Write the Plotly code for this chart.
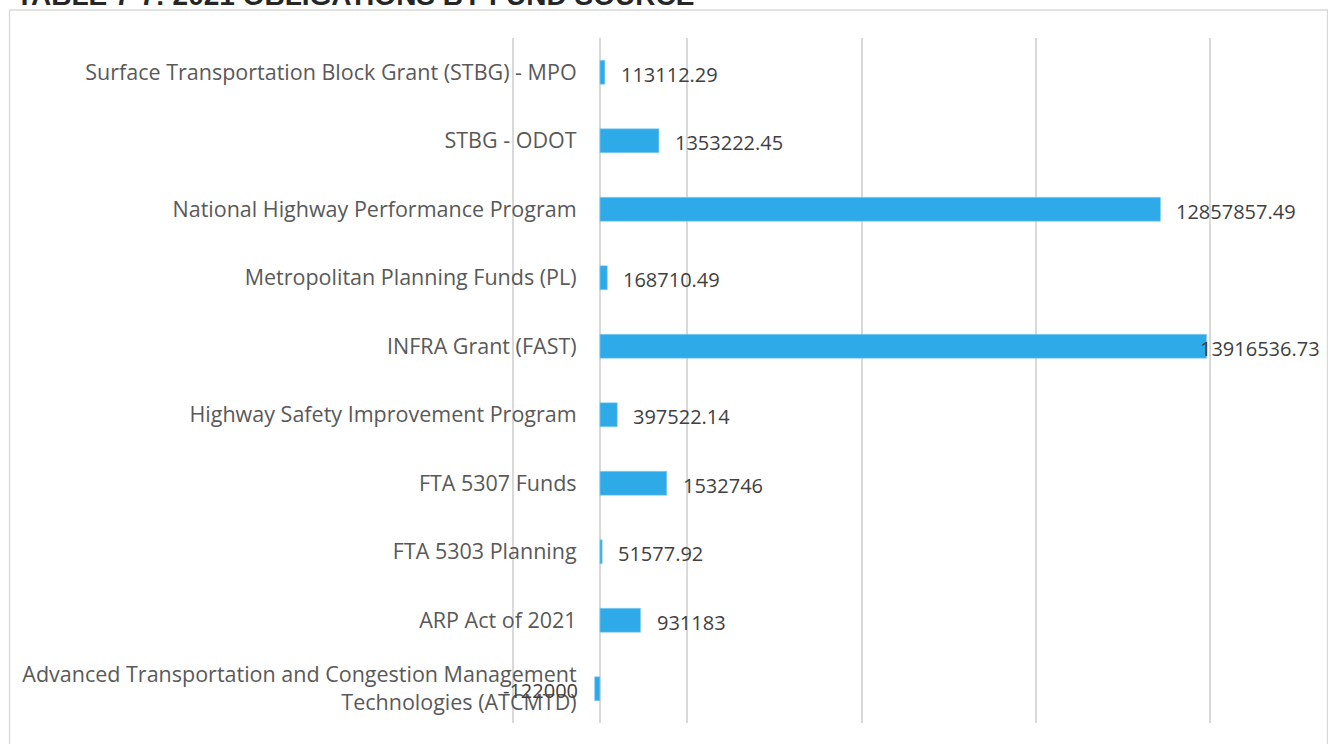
import plotly.graph_objects as go

categories = [
    "Surface Transportation Block Grant (STBG) - MPO",
    "STBG - ODOT",
    "National Highway Performance Program",
    "Metropolitan Planning Funds (PL)",
    "INFRA Grant (FAST)",
    "Highway Safety Improvement Program",
    "FTA 5307 Funds",
    "FTA 5303 Planning",
    "ARP Act of 2021",
    "Advanced Transportation and Congestion Management<br>Technologies (ATCMTD)",
]
values = [113112.29, 1353222.45, 12857857.49, 168710.49, 13916536.73,
          397522.14, 1532746, 51577.92, 931183, -122000]
value_labels = ["113112.29", "1353222.45", "12857857.49", "168710.49", "13916536.73",
                "397522.14", "1532746", "51577.92", "931183", "-122000"]
grid_vals = [-2e6, 0, 2e6, 6e6, 10e6, 14e6]
title_text = "TABLE 7-7: 2021 OBLIGATIONS BY FUND SOURCE"

OFF = 0   # body margin removed via post_script
W, H = 1328 - OFF, 744 - OFF
k = 697.0 / 16e6          # px per unit
x_lo, x_hi = -2.04e6, 14.04e6
zero_px = 600.0
L = zero_px + x_lo * k - OFF
pw = (x_hi - x_lo) * k
R = W - L - pw
T, B = 38 - OFF, 744 - 723
ph = H - T - B

def px_x(p):
    return (p - OFF - L) / pw

def px_y(p):
    return (H - B - (p - OFF)) / ph

fig = go.Figure()
fig.add_trace(go.Bar(
    y=list(range(len(categories))), x=values, orientation="h",
    marker=dict(color="#2EAAE8", line=dict(color="#8fd0f2", width=0.6)),
    width=0.35, hoverinfo="skip",
))

lab_font = dict(family="Open Sans", size=20, color="#404040")
annotations = []
for i, (v, t) in enumerate(zip(values, value_labels)):
    if v >= 0:
        shift = -9 if v > 13.5e6 else 14
        annotations.append(dict(x=v, y=i, xref="x", yref="y", text=t, showarrow=False,
                                xanchor="left", xshift=shift, yshift=-2, font=lab_font))
    else:
        annotations.append(dict(x=0, y=i, xref="x", yref="y", text=t, showarrow=False,
                                xanchor="right", xshift=-20, yshift=-2, font=lab_font))

annotations.append(dict(x=px_x(14), y=px_y(13), xref="paper", yref="paper",
                        text="<b>" + title_text + "</b>",
                        showarrow=False, xanchor="left", yanchor="bottom",
                        font=dict(family="Liberation Sans", size=28, color="#262626")))

fig.update_layout(
    width=W, height=H,
    margin=dict(l=L, r=R, t=T, b=B, pad=0),
    paper_bgcolor="white", plot_bgcolor="white",
    showlegend=False,
    xaxis=dict(range=[x_lo, x_hi], tickvals=grid_vals, showticklabels=False,
               showgrid=True, gridcolor="#d9d9d9", gridwidth=1.5,
               zeroline=False, showline=False, fixedrange=True),
    yaxis=dict(range=[len(categories) - 0.5, -0.5], tickvals=list(range(len(categories))),
               ticktext=categories, anchor="free", position=px_x(zero_px),
               showgrid=False, zeroline=False, showline=False,
               ticks="outside", ticklen=19, tickcolor="rgba(0,0,0,0)",
               tickfont=dict(family="Open Sans", size=21.5, color="#595959"),
               fixedrange=True),
    annotations=annotations,
    shapes=[dict(type="rect", xref="paper", yref="paper",
                 x0=px_x(10), x1=px_x(1327), y0=px_y(10), y1=px_y(780),
                 line=dict(color="#d9d9d9", width=1.3), layer="below")],
)

fig.write_html("out.html", config={"displayModeBar": False},
               post_script="document.body.style.margin='0';")
